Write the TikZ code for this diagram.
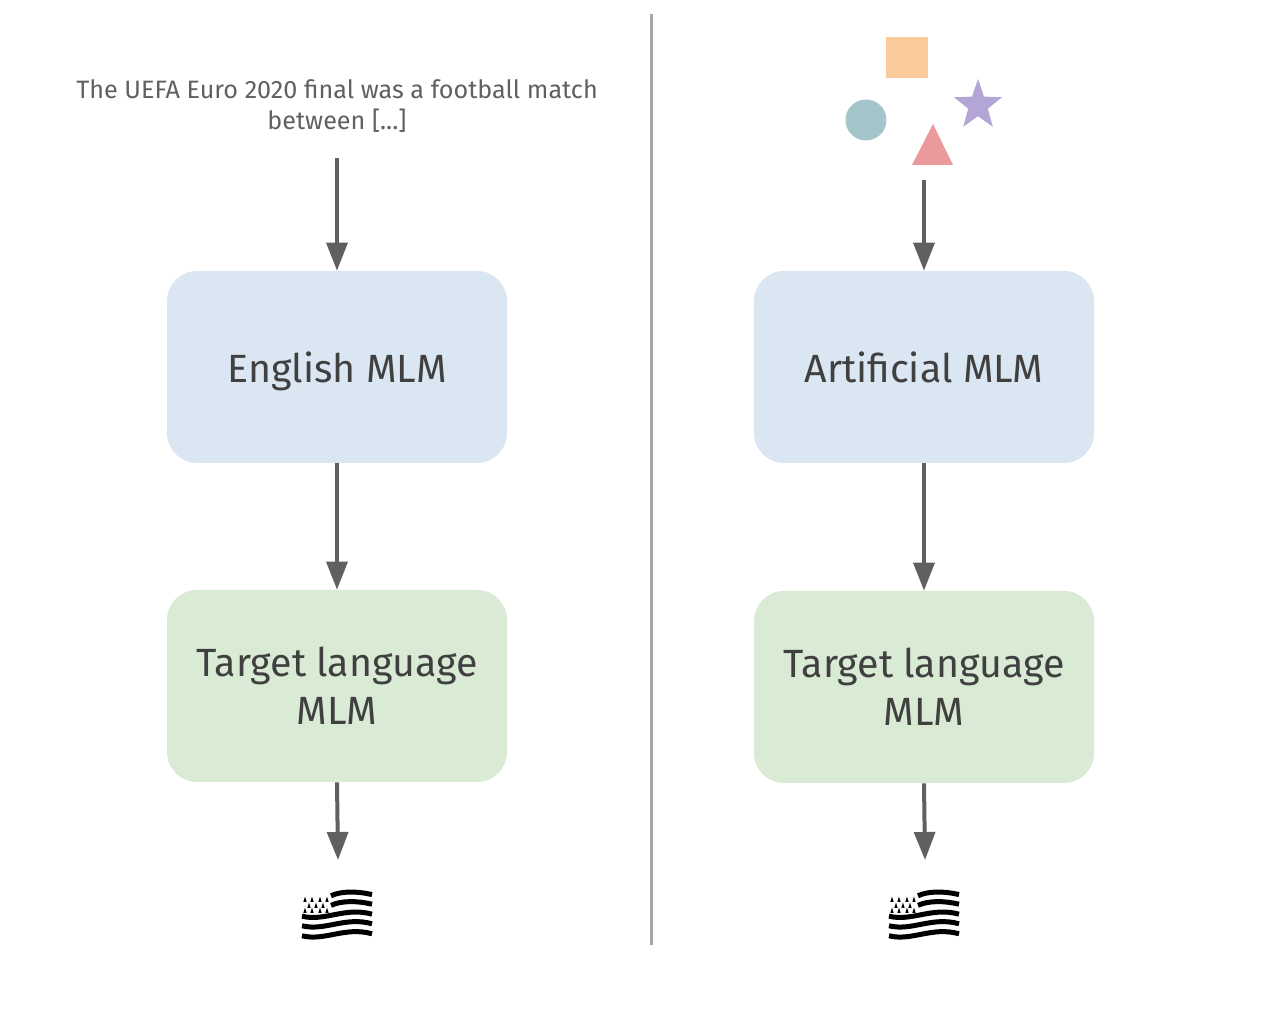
\documentclass[tikz,border=0pt]{standalone}
\usepackage{fontspec}
\setmainfont{Fira Sans}
\usetikzlibrary{arrows.meta,shapes.geometric}
\definecolor{flowgray}{HTML}{606060}
\definecolor{rulegray}{HTML}{A6A6A6}
\definecolor{boxblue}{HTML}{DAE6F1}
\definecolor{boxgreen}{HTML}{D9EAD5}
\definecolor{labeldark}{HTML}{404040}
\tikzset{
    mlmbox/.style={rounded corners=0.75cm, minimum width=8.5cm, minimum height=4.8cm, align=center,
        text=labeldark, font=\fontsize{28}{34}\selectfont},
    flow/.style={-{Triangle[length=0.7cm, width=0.52cm]}, line width=0.1cm, flowgray},
    flag/.pic={
        \foreach \yy in {-0.02,-0.26,-0.51}
            \draw[line width=0.125cm] (-0.875,\yy) .. controls (-0.3,\yy-0.14) and (0.2,\yy+0.24) .. (0.875,\yy+0.05);
        \foreach \yy in {0.49,0.25}
            \draw[line width=0.125cm] (-0.15,\yy) .. controls (0.1,\yy+0.12) and (0.5,\yy+0.12) .. (0.875,\yy+0.03);
        \foreach \xx/\yy in {-0.8/0.4,-0.625/0.4,-0.425/0.4,-0.25/0.4,-0.7/0.25,-0.525/0.25,-0.35/0.25,-0.8/0.125,-0.625/0.125,-0.425/0.125,-0.25/0.125}
            \fill (\xx,\yy+0.07) -- (\xx+0.04,\yy-0.06) -- (\xx-0.04,\yy-0.06) -- cycle;
    }
}
\begin{document}
\begin{tikzpicture}
    \useasboundingbox (0,0) rectangle (32,25.425);

    % divider
    \coordinate (ruletop) at (16.29,25.075);
    \coordinate (rulebottom) at (16.29,1.8);
    \draw[line width=0.075cm, rulegray] (ruletop) -- (rulebottom);

    % left panel: text input
    \node[align=center, text=flowgray, font=\fontsize{17.9}{22}\selectfont] (euro) at (8.425,22.775)
        {The UEFA Euro 2020 final was a football match\\between [...]};
    \coordinate (eurostart) at (8.425,21.475);
    \node[mlmbox, fill=boxblue, text depth=0pt] (english) at (8.425,16.25) {English MLM};
    \node[mlmbox, fill=boxgreen] (targetleft) at (8.425,8.275) {Target language\\MLM};
    \coordinate (flagleftend) at (8.45,3.925);
    \pic at (8.425,2.54) {flag};
    \draw[flow] (eurostart) -- (english.north);
    \draw[flow] (english.south) -- (targetleft.north);
    \draw[flow] (targetleft.south) -- (flagleftend);

    % right panel: artificial input
    \fill[fill={rgb,255:red,251;green,203;blue,155}] (22.15,24.5) rectangle (23.2,23.475);
    \fill[fill={rgb,255:red,165;green,197;blue,202}] (21.65,22.425) circle (0.5125);
    \fill[fill={rgb,255:red,234;green,154;blue,154}] (23.325,22.325) -- (23.825,21.3) -- (22.8,21.3) -- cycle;
    \node[star, star points=5, star point ratio=2.45, minimum size=1.26cm, inner sep=0pt, outer sep=0pt,
        yscale=1.05, transform shape,
        fill={rgb,255:red,179;green,165;blue,213}] (starshape) at (24.45,22.79) {};
    \coordinate (shapestart) at (23.1,20.925);
    \node[mlmbox, fill=boxblue] (artificial) at (23.1,16.25) {Artificial MLM};
    \node[mlmbox, fill=boxgreen] (targetright) at (23.1,8.25) {Target language\\MLM};
    \coordinate (flagrightend) at (23.125,3.925);
    \pic at (23.1,2.54) {flag};
    \draw[flow] (shapestart) -- (artificial.north);
    \draw[flow] (artificial.south) -- (targetright.north);
    \draw[flow] (targetright.south) -- (flagrightend);
\end{tikzpicture}
\end{document}
